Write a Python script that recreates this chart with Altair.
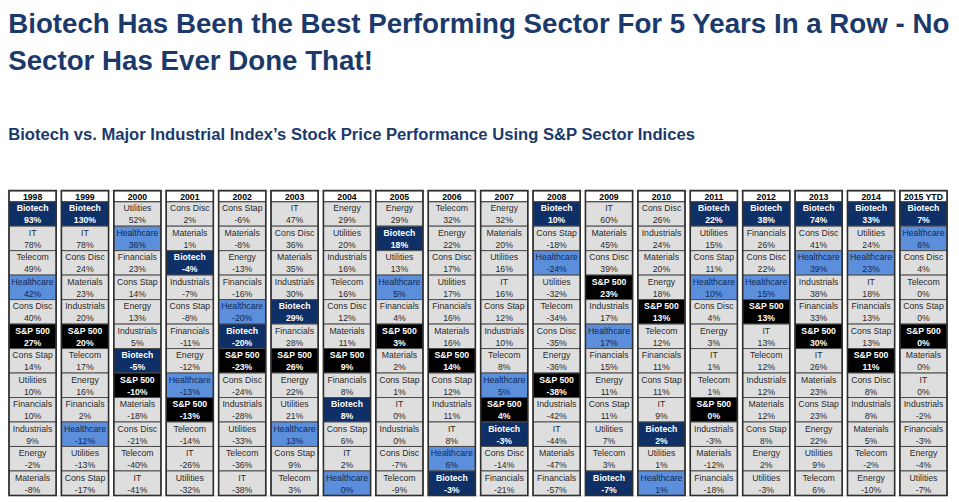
import altair as alt
import pandas as pd

years = ["1998", "1999", "2000", "2001", "2002", "2003", "2004", "2005", "2006",
         "2007", "2008", "2009", "2010", "2011", "2012", "2013", "2014", "2015 YTD"]

sectors_by_year = [
    ["Biotech", "IT", "Telecom", "Healthcare", "Cons Disc", "S&P 500", "Cons Stap", "Utilities", "Financials", "Industrials", "Energy", "Materials"],
    ["Biotech", "IT", "Cons Disc", "Materials", "Industrials", "S&P 500", "Telecom", "Energy", "Financials", "Healthcare", "Utilities", "Cons Stap"],
    ["Utilities", "Healthcare", "Financials", "Cons Stap", "Energy", "Industrials", "Biotech", "S&P 500", "Materials", "Cons Disc", "Telecom", "IT"],
    ["Cons Disc", "Materials", "Biotech", "Industrials", "Cons Stap", "Financials", "Energy", "Healthcare", "S&P 500", "Telecom", "IT", "Utilities"],
    ["Cons Stap", "Materials", "Energy", "Financials", "Healthcare", "Biotech", "S&P 500", "Cons Disc", "Industrials", "Utilities", "Telecom", "IT"],
    ["IT", "Cons Disc", "Materials", "Industrials", "Biotech", "Financials", "S&P 500", "Energy", "Utilities", "Healthcare", "Cons Stap", "Telecom"],
    ["Energy", "Utilities", "Industrials", "Telecom", "Cons Disc", "Materials", "S&P 500", "Financials", "Biotech", "Cons Stap", "IT", "Healthcare"],
    ["Energy", "Biotech", "Utilities", "Healthcare", "Financials", "S&P 500", "Materials", "Cons Stap", "IT", "Industrials", "Cons Disc", "Telecom"],
    ["Telecom", "Energy", "Cons Disc", "Utilities", "Financials", "Materials", "S&P 500", "Cons Stap", "Industrials", "IT", "Healthcare", "Biotech"],
    ["Energy", "Materials", "Utilities", "IT", "Cons Stap", "Industrials", "Telecom", "Healthcare", "S&P 500", "Biotech", "Cons Disc", "Financials"],
    ["Biotech", "Cons Stap", "Healthcare", "Utilities", "Telecom", "Cons Disc", "Energy", "S&P 500", "Industrials", "IT", "Materials", "Financials"],
    ["IT", "Materials", "Cons Disc", "S&P 500", "Industrials", "Healthcare", "Financials", "Energy", "Cons Stap", "Utilities", "Telecom", "Biotech"],
    ["Cons Disc", "Industrials", "Materials", "Energy", "S&P 500", "Telecom", "Financials", "Cons Stap", "IT", "Biotech", "Utilities", "Healthcare"],
    ["Biotech", "Utilities", "Cons Stap", "Healthcare", "Cons Disc", "Energy", "IT", "Telecom", "S&P 500", "Industrials", "Materials", "Financials"],
    ["Biotech", "Financials", "Cons Disc", "Healthcare", "S&P 500", "IT", "Telecom", "Industrials", "Materials", "Cons Stap", "Energy", "Utilities"],
    ["Biotech", "Cons Disc", "Healthcare", "Industrials", "Financials", "S&P 500", "IT", "Materials", "Cons Stap", "Energy", "Utilities", "Telecom"],
    ["Biotech", "Utilities", "Healthcare", "IT", "Financials", "Cons Stap", "S&P 500", "Cons Disc", "Industrials", "Materials", "Telecom", "Energy"],
    ["Biotech", "Healthcare", "Cons Disc", "Telecom", "Cons Stap", "S&P 500", "Materials", "IT", "Industrials", "Financials", "Energy", "Utilities"],
]

returns_by_year = [
    [93, 78, 49, 42, 40, 27, 14, 10, 10, 9, -2, -8],
    [130, 78, 24, 23, 20, 20, 17, 16, 2, -12, -13, -17],
    [52, 36, 23, 14, 13, 5, -5, -10, -18, -21, -40, -41],
    [2, 1, -4, -7, -8, -11, -12, -13, -13, -14, -26, -32],
    [-6, -8, -13, -16, -20, -20, -23, -24, -28, -33, -36, -38],
    [47, 36, 35, 30, 29, 28, 26, 22, 21, 13, 9, 3],
    [29, 20, 16, 16, 12, 11, 9, 8, 8, 6, 2, 0],
    [29, 18, 13, 5, 4, 3, 2, 1, 0, 0, -7, -9],
    [32, 22, 17, 17, 16, 16, 14, 12, 11, 8, 6, -3],
    [32, 20, 16, 16, 12, 10, 8, 5, 4, -3, -14, -21],
    [10, -18, -24, -32, -34, -35, -36, -38, -42, -44, -47, -57],
    [60, 45, 39, 23, 17, 17, 15, 11, 11, 7, 3, -7],
    [26, 24, 20, 18, 13, 12, 11, 11, 9, 2, 1, 1],
    [22, 15, 11, 10, 4, 3, 1, 1, 0, -3, -12, -18],
    [38, 26, 22, 15, 13, 13, 12, 12, 12, 8, 2, -3],
    [74, 41, 39, 38, 33, 30, 26, 23, 23, 22, 9, 6],
    [33, 24, 23, 18, 13, 13, 11, 8, 8, 5, -2, -10],
    [7, 6, 4, 0, 0, 0, 0, 0, -2, -3, -4, -7],
]

kinds = ["Biotech", "Healthcare", "S&P 500", "Other"]
fill_colors = ["#0f3066", "#5b8edb", "#000000", "#dedede"]
text_colors = ["#ffffff", "#0f2a55", "#ffffff", "#2b2b2b"]

rows = []
for yi, yr in enumerate(years):
    for r, (s, v) in enumerate(zip(sectors_by_year[yi], returns_by_year[yi])):
        kind = s if s in ("Biotech", "Healthcare", "S&P 500") else "Other"
        rows.append({"year": yr, "top": r, "bot": r + 1, "mid": r + 0.5,
                     "sector": s, "label": f"{v}%", "kind": kind,
                     "bold": kind in ("Biotech", "S&P 500")})
df = pd.DataFrame(rows)
hdr = pd.DataFrame({"year": years, "top": [-0.45] * len(years), "bot": [0] * len(years),
                    "mid": [-0.225] * len(years)})
col = pd.DataFrame({"year": years, "top": [-0.45] * len(years), "bot": [12] * len(years)})

X = alt.X("year:N", sort=years, axis=None,
          scale=alt.Scale(paddingInner=0.1, paddingOuter=0.0))
ysc = alt.Scale(domain=[-0.45, 12], reverse=True, nice=False, zero=False)
Y = alt.Y("top:Q", scale=ysc, axis=None)
Y2 = alt.Y2("bot:Q")
fill = alt.Color("kind:N", scale=alt.Scale(domain=kinds, range=fill_colors), legend=None)
tcol = alt.Color("kind:N", scale=alt.Scale(domain=kinds, range=text_colors), legend=None)

base = alt.Chart(df)
cells = base.mark_rect(stroke="#4d4d4d", strokeWidth=1).encode(x=X, y=Y, y2=Y2, fill=fill)
ym = alt.Y("mid:Q", scale=ysc, axis=None)
font = "Liberation Sans"
fs = 8.8
name_n = base.transform_filter("!datum.bold").mark_text(font=font, fontSize=fs, dy=-5.5).encode(
    x=X, y=ym, text="sector:N", color=tcol)
val_n = base.transform_filter("!datum.bold").mark_text(font=font, fontSize=fs, dy=6.5).encode(
    x=X, y=ym, text="label:N", color=tcol)
name_b = base.transform_filter("datum.bold").mark_text(font=font, fontSize=fs, fontWeight="bold", dy=-5.5).encode(
    x=X, y=ym, text="sector:N", color=tcol)
val_b = base.transform_filter("datum.bold").mark_text(font=font, fontSize=fs, fontWeight="bold", dy=6.5).encode(
    x=X, y=ym, text="label:N", color=tcol)

hdr_rect = alt.Chart(hdr).mark_rect(fill="#ffffff", stroke="#333333", strokeWidth=1).encode(
    x=X, y=Y, y2=Y2)
hdr_text = alt.Chart(hdr).mark_text(font=font, fontSize=fs, fontWeight="bold", color="#000000", dy=0.5).encode(
    x=X, y=ym, text="year:N")
outline = alt.Chart(col).mark_rect(fill=None, stroke="#2f2f2f", strokeWidth=1.6).encode(
    x=X, y=Y, y2=Y2)

chart = alt.layer(cells, name_n, val_n, name_b, val_b, hdr_rect, hdr_text, outline).properties(
    width=948, height=308,
    padding={"left": 0, "top": 0, "right": 0, "bottom": 0},
    title=alt.TitleParams(
        text=["Biotech Has Been the Best Performing Sector For 5 Years In a Row - No",
              "Sector Has Ever Done That!"],
        subtitle="Biotech vs. Major Industrial Index\u2019s Stock  Price Performance Using S&P Sector Indices",
        anchor="start", font=font, fontSize=28, fontWeight="bold", color="#1b3a6b",
        lineHeight=38, subtitleFont=font, subtitleFontSize=16.8, subtitleFontWeight="bold",
        subtitleColor="#1b3a6b", subtitlePadding=51, offset=38, dy=-9),
).configure_view(stroke=None).configure(background="#ffffff")

chart.save("out.html", embed_options={"renderer": "svg", "actions": False})
